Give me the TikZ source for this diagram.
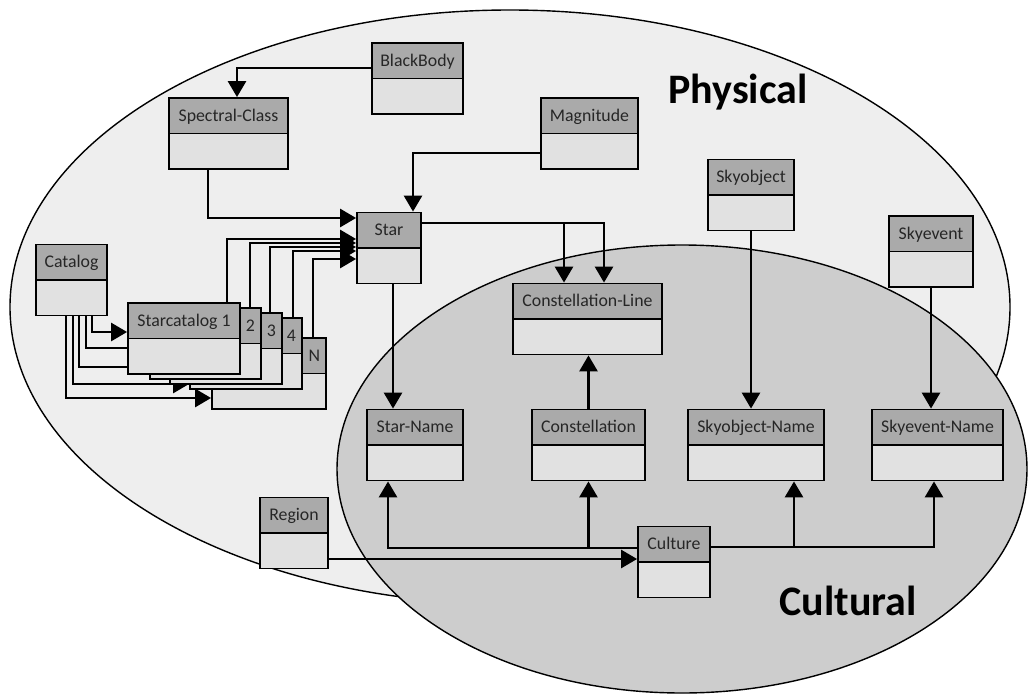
\documentclass[tikz,border=0pt]{standalone}
\usepackage{fontspec}
\setmainfont{Carlito}
\usetikzlibrary{arrows.meta,calc}
\definecolor{PhysGray}{HTML}{EEEEEE}
\definecolor{CultGray}{HTML}{CDCDCD}
\definecolor{HeadGray}{HTML}{AAAAAA}
\definecolor{BodyGray}{HTML}{E1E1E1}
\pgfdeclarelayer{ellipses}
\pgfdeclarelayer{links}
\pgfsetlayers{ellipses,links,main}

\begin{document}
\begin{tikzpicture}[x=0.5pt,y=-0.5pt,
    classbox/.style={draw,line width=0.9pt,fill=BodyGray,inner xsep=0pt,inner ysep=0pt,
      text height=11.6pt,text depth=23.9pt,text=black!85,
      font=\fontsize{8.9}{10}\selectfont,
      path picture={\fill[HeadGray] (path picture bounding box.north west) rectangle (path picture bounding box.east);
        \draw[line width=0.9pt] (path picture bounding box.west) -- (path picture bounding box.east);}},
    stackbox/.style={classbox,inner xsep=3pt,align=right},
    link/.style={line width=1.35pt,-{Triangle[length=8pt,width=9pt]}},
    title/.style={font=\bfseries\fontsize{21}{24}\selectfont}]

        \useasboundingbox (0,0) rectangle (1028,696);

        \node[classbox,minimum width=45.5pt] (blackbody) at (417.5,78.5) {BlackBody};
        \node[classbox,minimum width=48.5pt] (magnitude) at (589.5,133.5) {Magnitude};
        \node[classbox,minimum width=59.5pt] (spectral) at (228.5,133.5) {Spectral-Class};
        \node[classbox,minimum width=32pt] (star) at (389,248) {Star};
        \node[classbox,minimum width=35.5pt] (catalog) at (71.5,280) {Catalog};
        \node[classbox,minimum width=74.5pt] (conline) at (587.5,319) {Constellation-Line};
        \node[classbox,minimum width=48pt] (starname) at (415,445) {Star-Name};
        \node[classbox,minimum width=56.5pt] (constellation) at (588.5,445) {Constellation};
        \node[classbox,minimum width=43pt] (skyobject) at (751,195) {Skyobject};
        \node[classbox,minimum width=42pt] (skyevent) at (931,251.5) {Skyevent};
        \node[classbox,minimum width=68pt] (skyobjname) at (756,445) {Skyobject-Name};
        \node[classbox,minimum width=65.5pt] (skyeventname) at (937.5,445) {Skyevent-Name};
        \node[classbox,minimum width=34pt] (region) at (294,533) {Region};
        \node[classbox,minimum width=36pt] (culture) at (674,562) {Culture};

        \node[stackbox,text width=51pt] (scN) at (269,373.5) {N};
        \node[stackbox,text width=50pt] (sc4) at (246,353.5) {4};
        \node[stackbox,text width=50pt] (sc3) at (226,348.5) {3};
        \node[stackbox,text width=49.5pt] (sc2) at (205.5,343.5) {2};
        \node[classbox,minimum width=56pt] (sc1) at (184,338.5) {Starcatalog 1};

        \node[title] (physical) at (738,92) {Physical};
        \node[title] (cultural) at (848,601) {Cultural};

        \begin{pgfonlayer}{ellipses}
          \fill[white] (0,0) rectangle (1028,696);
          \draw[fill=PhysGray,line width=0.7pt] (510,307) ellipse [x radius=250pt,y radius=148.5pt];
          \draw[fill=CultGray,line width=0.7pt] (682,469) ellipse [x radius=172.5pt,y radius=112pt];
        \end{pgfonlayer}

        \begin{pgfonlayer}{links}
          \draw[link] ([yshift=5.25pt]blackbody.west) -| ([xshift=4.25pt]spectral.north);
          \draw[link] ([yshift=-9.75pt]magnitude.west) -| ([xshift=12pt]star.north);
          \draw[link] ([xshift=-10.25pt]spectral.south) |- ([yshift=15pt]star.west);
          \foreach \dx/\dy/\sc in {21.5/4.5/sc1, 22.25/2.5/sc2, 22/0.5/sc3, 23.5/-1.5/sc4, 22/-5.5/scN}
            \draw[link] ([xshift=\dx pt]\sc.north) |- ([yshift=\dy pt]star.west);
          \foreach \cx/\dy/\sc in {10.25/3.25/sc1, 7.25/-2.25/sc2, 3.75/-9.25/sc3, 0.75/-15.25/sc4, -2.75/-12.25/scN}
            \draw[link] ([xshift=\cx pt]catalog.south) |- ([yshift=\dy pt]\sc.west);
          \draw[link] ([yshift=12.5pt]star.east) -| ([xshift=-11.75pt]conline.north);
          \draw[link] ([yshift=12.5pt]star.east) -| ([xshift=8.25pt]conline.north);
          \draw[link] ([xshift=2pt]star.south) -- ([xshift=-11pt]starname.north);
          \draw[link] (constellation.north) -- (constellation.north |- conline.south);
          \draw[link] (skyobject.south) -- (skyobject.south |- skyobjname.north);
          \draw[link] (skyevent.south) -- (skyevent.south |- skyeventname.north);
          \draw[link] ([yshift=-13pt]region.east) -- ([yshift=1.5pt]culture.west);
          \coordinate (cultw) at ([yshift=7pt]culture.west);
          \coordinate (culte) at ([yshift=7.5pt]culture.east);
          \coordinate (sonb) at ([xshift=19pt]skyobjname.south);
          \draw[link] (cultw) -| ([xshift=-13.5pt]starname.south);
          \draw[link] (cultw -| constellation.south) -- (constellation.south);
          \draw[link] (culte) -| ([xshift=-1.75pt]skyeventname.south);
          \draw[link] (culte -| sonb) -- (sonb);
        \end{pgfonlayer}

      \end{tikzpicture}
\end{document}
